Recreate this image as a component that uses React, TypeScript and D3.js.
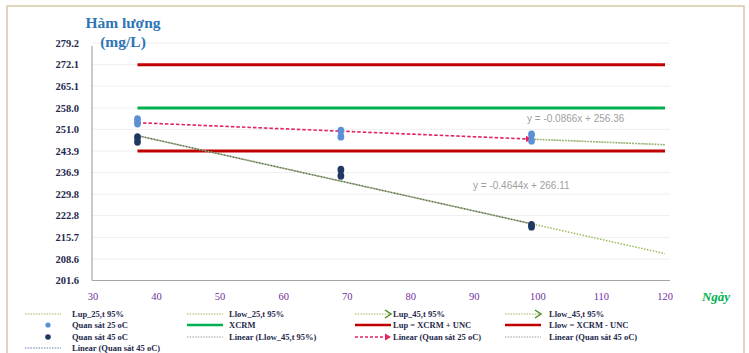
import React from "react";
import * as d3 from "d3";

// Days of observation
const days25 = [37, 37, 69, 69, 99, 99];
const values25 = [254.3, 252.9, 250.6, 248.6, 249.3, 247.3];
const days45 = [37, 37, 69, 69, 99, 99];
const values45 = [248.4, 246.9, 237.8, 235.8, 219.8, 219.2];

// Linear trend coefficients [slope, intercept]
const trend25 = [-0.0866, 256.36];
const trend45 = [-0.4644, 266.11];

// Reference levels
const XCRM = 258.0;
const UNC = 14.1;

const yTicks = [201.6, 208.6, 215.7, 222.8, 229.8, 236.9, 243.9, 251.0, 258.0, 265.1, 272.1, 279.2];
const xTicks = [30, 40, 50, 60, 70, 80, 90, 100, 110, 120];

const W = 749;
const H = 353;

const NAVY = "#1f2a4d";
const SERIF = "'Liberation Serif', 'DejaVu Serif', serif";
const OLIVE = "#9bbb59";
const RED = "#c00000";
const GREEN = "#00b050";
const PINK = "#e0245e";
const BLUE = "#5b8fd6";
const DARK = "#1f3864";

type LegendItem = { label: string; kind: string };
const legendRows: LegendItem[][] = [
  [
    { label: "Lup_25,t 95%", kind: "olive" },
    { label: "Llow_25,t 95%", kind: "olive" },
    { label: "Lup_45,t 95%", kind: "oliveArrow" },
    { label: "Llow_45,t 95%", kind: "oliveArrow" },
  ],
  [
    { label: "Quan sát 25 oC", kind: "dot25" },
    { label: "XCRM", kind: "green" },
    { label: "Lup = XCRM + UNC", kind: "red" },
    { label: "Llow = XCRM - UNC", kind: "red" },
  ],
  [
    { label: "Quan sát 45 oC", kind: "dot45" },
    { label: "Linear (Llow_45,t 95%)", kind: "grayDot" },
    { label: "Linear (Quan sát 25 oC)", kind: "redArrow" },
    { label: "Linear (Quan sát 45 oC)", kind: "grayDot" },
  ],
  [{ label: "Linear (Quan sát 45 oC)", kind: "blueDot" }],
];
const legendSwatchX = [25, 187, 355, 505];
const legendTextX = [72, 229, 393, 549];
const legendRowY = [314, 325, 337, 348];

export default function App() {
  const x = d3.scaleLinear().domain([30, 120]).range([93, 665]);
  const y = d3.scaleLinear().domain([201.6, 279.2]).range([280.5, 43]);

  const line = d3
    .line<[number, number]>()
    .x((d) => x(d[0]))
    .y((d) => y(d[1]));

  const trendPts = (t: number[], a: number, b: number): [number, number][] => [
    [a, t[0] * a + t[1]],
    [b, t[0] * b + t[1]],
  ];

  const swatch = (kind: string, sx: number, sy: number) => {
    const x2 = sx + 36;
    switch (kind) {
      case "olive":
        return <line x1={sx} x2={x2} y1={sy} y2={sy} stroke={OLIVE} strokeWidth={1.2} strokeDasharray="1.5 1.2" />;
      case "oliveArrow":
        return (
          <g>
            <line x1={sx} x2={x2 - 2} y1={sy} y2={sy} stroke={OLIVE} strokeWidth={1.2} strokeDasharray="1.5 1.2" />
            <path d={`M${x2 - 6},${sy - 4} L${x2},${sy} L${x2 - 6},${sy + 4}`} fill="none" stroke="#4f8a2a" strokeWidth={1.5} />
          </g>
        );
      case "dot25":
        return <circle cx={sx + 23} cy={sy} r={2.6} fill={BLUE} />;
      case "dot45":
        return <circle cx={sx + 23} cy={sy} r={2.8} fill={DARK} />;
      case "green":
        return <line x1={sx} x2={x2} y1={sy} y2={sy} stroke={GREEN} strokeWidth={2.5} />;
      case "red":
        return <line x1={sx} x2={x2} y1={sy} y2={sy} stroke={RED} strokeWidth={2.5} />;
      case "grayDot":
        return <line x1={sx} x2={x2} y1={sy} y2={sy} stroke="#a0a0a0" strokeWidth={1.2} strokeDasharray="1.5 1.2" />;
      case "blueDot":
        return <line x1={sx} x2={x2} y1={sy} y2={sy} stroke="#6d7fa8" strokeWidth={1.2} strokeDasharray="1.5 1.2" />;
      case "redArrow":
        return (
          <g>
            <line x1={sx} x2={x2 - 4} y1={sy} y2={sy} stroke={PINK} strokeWidth={1.3} strokeDasharray="3 2" />
            <path d={`M${x2 - 6},${sy - 3.5} L${x2},${sy} L${x2 - 6},${sy + 3.5} Z`} fill={PINK} />
          </g>
        );
      default:
        return null;
    }
  };

  return (
    <svg width={W} height={H} style={{ position: "absolute", left: 0, top: 0, background: "#fff" }}>
      <defs>
        <marker id="arrowRed" viewBox="0 0 10 10" refX="9" refY="5" markerWidth="4" markerHeight="4" orient="auto">
          <path d="M0,0 L10,5 L0,10 Z" fill={PINK} />
        </marker>
      </defs>
      <rect x={0} y={0} width={W} height={H} fill="#fff" />
      <rect x={7} y={6} width={737} height={352} fill="none" stroke="#d8c8a6" strokeWidth={1.5} />

      {/* gridlines */}
      {yTicks.map((t) => (
        <line key={"g" + t} x1={92} x2={670} y1={y(t)} y2={y(t)} stroke="#efefef" strokeWidth={1} />
      ))}

      {/* axes */}
      <line x1={92} x2={92} y1={46} y2={280.5} stroke="#a6a6a6" strokeWidth={1.2} />
      <line x1={92} x2={670} y1={280.5} y2={280.5} stroke="#a6a6a6" strokeWidth={1.2} />

      {yTicks.map((t) => (
        <text key={"y" + t} x={79} y={y(t)} dy="0.35em" textAnchor="end" fontFamily={SERIF} fontWeight="bold" fontSize={10.5} fill={NAVY}>
          {t.toFixed(1)}
        </text>
      ))}
      {xTicks.map((t) => (
        <text key={"x" + t} x={x(t)} y={296} dy="0.35em" textAnchor="middle" fontFamily={SERIF} fontSize={10.5} fill="#7030a0">
          {t}
        </text>
      ))}

      <text x={123} y={23} dy="0.35em" textAnchor="middle" fontFamily={SERIF} fontWeight="bold" fontSize={15.5} fill="#2e75b6">
        Hàm lượng
      </text>
      <text x={123} y={42} dy="0.35em" textAnchor="middle" fontFamily={SERIF} fontWeight="bold" fontSize={15.5} fill="#2e75b6">
        (mg/L)
      </text>
      <text x={716} y={296} dy="0.35em" textAnchor="middle" fontFamily={SERIF} fontStyle="italic" fontWeight="bold" fontSize={13} fill={GREEN}>
        Ngày
      </text>

      {/* reference levels */}
      <line x1={x(37)} x2={x(120)} y1={y(XCRM + UNC)} y2={y(XCRM + UNC)} stroke={RED} strokeWidth={3} />
      <line x1={x(37)} x2={x(120)} y1={y(XCRM)} y2={y(XCRM)} stroke={GREEN} strokeWidth={3} />
      <line x1={x(37)} x2={x(120)} y1={y(XCRM - UNC)} y2={y(XCRM - UNC)} stroke={RED} strokeWidth={3} />

      {/* 45 oC trend */}
      <path d={line(trendPts(trend45, 37, 120)) || ""} fill="none" stroke={OLIVE} strokeWidth={1.5} strokeDasharray="1.5 1.5" />
      <path d={line(trendPts(trend45, 37, 99)) || ""} fill="none" stroke="#5f6670" strokeWidth={1.5} strokeDasharray="1.5 1.5" strokeDashoffset={1.5} />

      {/* 25 oC trend and extension */}
      <path d={line(trendPts(trend25, 99, 120)) || ""} fill="none" stroke={OLIVE} strokeWidth={1.6} strokeDasharray="1.6 1.2" />
      <path d={line(trendPts(trend25, 99, 120)) || ""} fill="none" stroke="#9aa0a6" strokeWidth={1} strokeDasharray="1.2 2" strokeDashoffset={1.5} />
      <path d={line(trendPts(trend25, 37, 99)) || ""} fill="none" stroke={PINK} strokeWidth={1.6} strokeDasharray="3.5 2" markerEnd="url(#arrowRed)" />

      {/* observations */}
      {days25.map((d, i) => (
        <ellipse key={"a" + i} cx={x(d)} cy={y(values25[i])} rx={3.4} ry={3.9} fill={BLUE} />
      ))}
      {days45.map((d, i) => (
        <ellipse key={"b" + i} cx={x(d)} cy={y(values45[i])} rx={3.4} ry={3.9} fill={DARK} />
      ))}

      {/* equations */}
      <text x={527} y={118} dy="0.35em" fontFamily="'Liberation Sans', Arial, sans-serif" fontSize={10} fill="#a0a0a0">
        {`y = ${trend25[0]}x + ${trend25[1]}`}
      </text>
      <text x={473} y={185} dy="0.35em" fontFamily="'Liberation Sans', Arial, sans-serif" fontSize={10} fill="#a0a0a0">
        {`y = ${trend45[0]}x + ${trend45[1]}`}
      </text>

      {/* legend */}
      {legendRows.map((row, r) =>
        row.map((item, c) => (
          <g key={`l${r}-${c}`}>
            {swatch(item.kind, legendSwatchX[c], legendRowY[r])}
            <text x={legendTextX[c]} y={legendRowY[r]} dy="0.35em" fontFamily={SERIF} fontWeight="bold" fontSize={8.5} fill={NAVY}>
              {item.label}
            </text>
          </g>
        ))
      )}
    </svg>
  );
}
